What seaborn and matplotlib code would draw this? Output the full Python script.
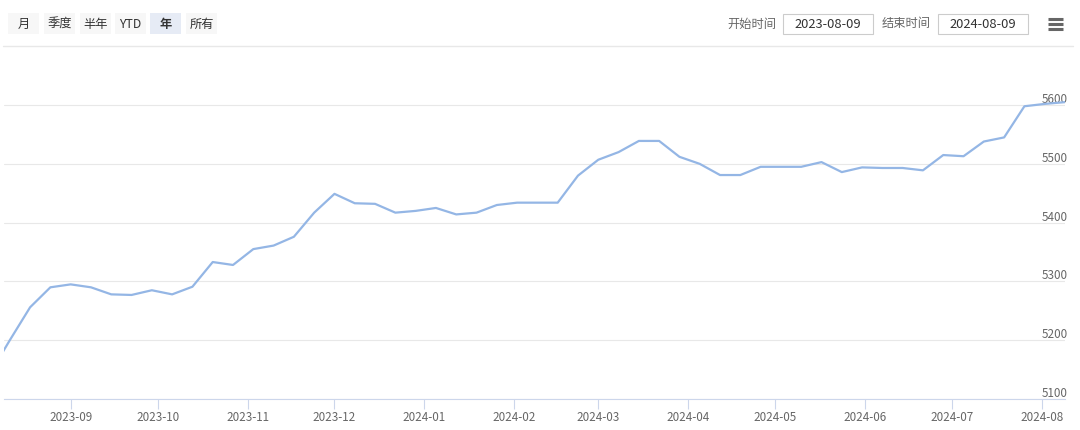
import numpy as np
import pandas as pd
import matplotlib
matplotlib.use("Agg")
import matplotlib.pyplot as plt
import matplotlib.dates as mdates
from matplotlib.patches import Rectangle
from matplotlib.lines import Line2D
import seaborn as sns

# ---------------- data ----------------
dates = pd.date_range("2023-08-04", "2024-08-09", freq="W-FRI")
values = [
    5142, 5200,
    5256, 5290, 5295, 5290, 5278, 5277, 5285, 5278, 5291, 5333,
    5328, 5355, 5361, 5376, 5417, 5449, 5433, 5432, 5417, 5420,
    5425, 5414, 5417, 5430, 5434, 5434, 5434, 5480, 5507, 5520,
    5539, 5539, 5512, 5500, 5481, 5481, 5495, 5495, 5495, 5503,
    5486, 5494, 5493, 5493, 5489, 5515, 5513, 5538, 5545, 5598,
    5602, 5605,
]
y_ticks = [5100, 5200, 5300, 5400, 5500, 5600]
x_start = pd.Timestamp("2023-08-09")
x_end = pd.Timestamp("2024-08-09")
buttons = ["月", "季度", "半年", "YTD", "年", "所有"]
selected_button = "年"
start_label, end_label = "开始时间", "结束时间"
start_text, end_text = "2023-08-09", "2024-08-09"

df = pd.DataFrame({"date": dates, "value": values})

# ---------------- style ----------------
sns.set_theme(style="white")
plt.rcParams["font.family"] = ["Noto Sans CJK SC", "DejaVu Sans"]

W, H = 1080, 431
fig = plt.figure(figsize=(W / 100, H / 100), dpi=100)
fig.patch.set_facecolor("white")


def fx(px):
    return px / W


def fy(py):
    return 1 - py / H


left, right, top, bottom = 4, 1065, 48, 400
ax = fig.add_axes([fx(left), fy(bottom), fx(right - left), (bottom - top) / H])

sns.lineplot(data=df, x="date", y="value", ax=ax, color="#94b6e5",
             linewidth=1.6, legend=False)

ax.set_xlim(x_start, x_end)
ax.set_ylim(5100, 5600 + (106 - top) / 58.7 * 100)
ax.set_xlabel("")
ax.set_ylabel("")

# y axis on the right, labels inside and above gridline
ax.yaxis.tick_right()
ax.set_yticks(y_ticks)
ax.set_yticklabels([str(v) for v in y_ticks])
ax.tick_params(axis="y", length=0, pad=1.8, labelsize=8.4, labelcolor="#666666")
for lab in ax.get_yticklabels():
    lab.set_horizontalalignment("right")
    lab.set_verticalalignment("bottom")
ax.grid(axis="y", color="#e8e8e8", linewidth=0.8)
ax.grid(axis="x", visible=False)

# x axis
ax.xaxis.set_major_locator(mdates.MonthLocator())
ax.xaxis.set_major_formatter(mdates.DateFormatter("%Y-%m"))
ax.tick_params(axis="x", direction="out", length=7.5, width=0.8,
               color="#ccd6eb", pad=0.5, labelsize=8.4, labelcolor="#666666",
               bottom=True)

for s in ["top", "left", "right"]:
    ax.spines[s].set_visible(False)
ax.spines["bottom"].set_color("#ccd6eb")
ax.spines["bottom"].set_linewidth(0.8)

# ---------------- toolbar ----------------
# separator line
fig.add_artist(Line2D([fx(3), fx(1073)], [fy(47), fy(47)], color="#e8e8e8",
                      linewidth=1.0, transform=fig.transFigure))

btn_x = [8, 44, 80, 115, 150, 186]
btn_w = 31
for label, bx in zip(buttons, btn_x):
    sel = label == selected_button
    fig.add_artist(Rectangle((fx(bx), fy(35)), fx(btn_w), (35 - 14) / H,
                             transform=fig.transFigure,
                             facecolor="#e6ebf5" if sel else "#f7f7f7",
                             edgecolor="none"))
    fig.text(fx(bx + btn_w / 2), fy(24.5), label, ha="center", va="center",
             fontsize=8.8, color="#333333",
             fontweight="bold" if sel else "normal")

# date inputs
fig.text(fx(776), fy(24), start_label, ha="right", va="center", fontsize=8.8,
         color="#666666")
fig.add_artist(Rectangle((fx(782.5), fy(34.5)), fx(90), (34.5 - 14.5) / H,
                         transform=fig.transFigure, facecolor="white",
                         edgecolor="#cccccc", linewidth=0.8))
fig.text(fx(827.5), fy(24), start_text, ha="center", va="center", fontsize=9.3,
         color="#333333")

fig.text(fx(930.5), fy(24), end_label, ha="right", va="center", fontsize=8.8,
         color="#666666")
fig.add_artist(Rectangle((fx(937.5), fy(34.5)), fx(90), (34.5 - 14.5) / H,
                         transform=fig.transFigure, facecolor="white",
                         edgecolor="#cccccc", linewidth=0.8))
fig.text(fx(982.5), fy(24), end_text, ha="center", va="center", fontsize=9.3,
         color="#333333")

# hamburger menu icon
for yy in (19.5, 24.5, 29.5):
    fig.add_artist(Line2D([fx(1048), fx(1063)], [fy(yy), fy(yy)],
                          color="#666666", linewidth=2.2,
                          solid_capstyle="butt", transform=fig.transFigure))

fig.savefig("out.png", dpi=100, facecolor="white")
